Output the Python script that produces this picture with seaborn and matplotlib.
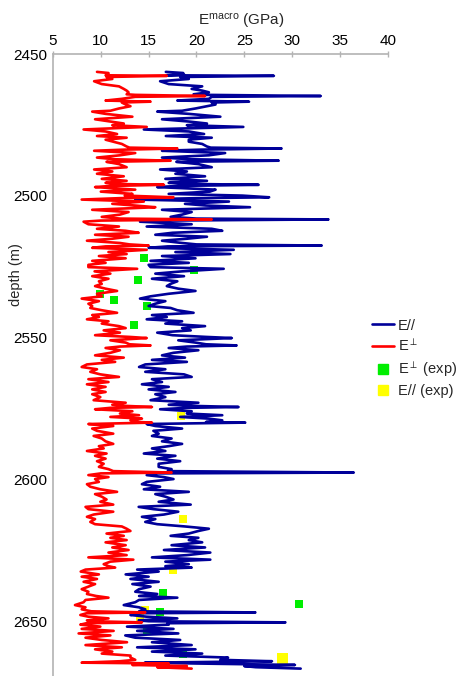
import matplotlib
matplotlib.use("Agg")
import matplotlib.pyplot as plt
from matplotlib.lines import Line2D
import pandas as pd
import seaborn as sns

# depth (m) of each log sample
depth = [
    2456.3, 2456.7, 2457.2, 2457.5, 2457.7, 2458.1, 2458.8, 2459.6, 2460.6, 2461.4,
    2462.3, 2462.9, 2463.5, 2464.2, 2464.4, 2464.8, 2465.1, 2465.8, 2466.4, 2466.8,
    2467.1, 2467.8, 2468.4, 2469.2, 2470.0, 2470.3, 2471.1, 2472.1, 2473.0, 2473.8,
    2474.5, 2475.1, 2475.7, 2476.2, 2476.6, 2477.3, 2478.2, 2478.9, 2479.5, 2480.2,
    2480.9, 2481.7, 2482.6, 2483.0, 2483.3, 2483.7, 2484.1, 2484.9, 2485.7, 2486.5,
    2487.1, 2487.6, 2488.0, 2488.8,
    2489.9, 2490.7, 2491.4, 2492.2, 2493.1, 2494.0, 2494.7, 2495.4, 2495.8, 2496.1,
    2496.5, 2496.9, 2497.8, 2498.5, 2499.3, 2499.9, 2500.5, 2500.8, 2501.3, 2502.0,
    2502.8, 2503.4, 2504.0, 2504.9, 2505.7, 2506.6, 2507.4, 2508.0, 2508.3, 2508.7,
    2509.1, 2510.0, 2510.8, 2511.6, 2512.3, 2513.0, 2513.7, 2514.4, 2515.1, 2515.8,
    2516.6, 2517.1, 2517.5, 2517.8, 2518.3, 2519.0, 2519.8, 2520.5, 2521.2, 2522.0,
    2522.9, 2523.6, 2524.3,
    2525.1, 2525.7, 2526.6, 2527.4, 2528.3, 2529.2, 2530.1, 2531.0, 2531.8, 2532.7,
    2533.5, 2534.5, 2535.4, 2536.2, 2537.1, 2538.0, 2538.8, 2539.5, 2540.3, 2541.2,
    2542.0, 2542.7, 2543.5, 2544.2, 2545.0, 2545.9, 2546.6, 2547.4, 2548.2, 2549.1,
    2549.7, 2550.1, 2550.9, 2551.7, 2552.3, 2552.7, 2553.1, 2553.6, 2554.4, 2555.3,
    2556.2, 2557.0, 2557.8, 2558.5, 2559.4,
    2560.3, 2561.1, 2562.0, 2562.9, 2563.8, 2564.6, 2565.6, 2566.4, 2567.3, 2568.2,
    2569.1, 2569.9, 2570.9, 2572.0, 2572.9, 2573.6, 2574.0, 2574.4, 2574.7, 2575.2,
    2575.9, 2576.7, 2577.3, 2577.9, 2578.5, 2579.1, 2579.7, 2579.9, 2580.4, 2581.1,
    2582.0, 2582.8, 2583.8, 2584.6, 2585.5, 2586.5, 2587.4, 2588.2, 2589.0, 2589.9,
    2590.8, 2591.6, 2592.6, 2593.5, 2594.4,
    2595.5, 2596.3, 2597.0, 2597.5, 2597.8, 2598.4, 2599.1, 2599.8, 2600.8, 2601.6,
    2602.5, 2603.4, 2604.3, 2605.1, 2606.0, 2607.0, 2607.8, 2608.8, 2609.6, 2610.4,
    2611.3, 2612.3, 2613.1, 2613.9, 2614.9, 2615.7, 2616.5, 2617.3, 2618.1, 2619.0,
    2619.8, 2620.5, 2621.3, 2622.1, 2623.1, 2623.9, 2624.8, 2625.7, 2626.6, 2627.4,
    2628.2, 2628.9, 2629.8,
    2630.5, 2631.0, 2631.7, 2632.4, 2633.4, 2634.2, 2635.0, 2636.0, 2636.8, 2637.7,
    2638.6, 2639.5, 2640.3, 2641.0, 2641.6, 2642.4, 2643.2, 2644.2, 2645.0, 2645.7,
    2646.4, 2646.8, 2647.1, 2647.7, 2648.3, 2648.9, 2649.6, 2649.9, 2650.3, 2650.6,
    2651.1, 2651.8, 2652.6, 2653.3, 2654.2, 2654.9, 2655.7, 2656.5, 2657.3, 2658.3,
    2659.1, 2659.8, 2660.6, 2661.3, 2662.0, 2662.7, 2663.5, 2664.0, 2664.5, 2664.8,
    2665.3, 2665.7, 2666.1, 2666.6,
]

# E// (GPa)
e_par = [
    16.8, 18.6, 18.7, 16.9, 28.1, 18.3, 19.2, 16.2, 17.1, 20.6,
    19.5, 20.6, 21.3, 19.7, 21.0, 33.0, 21.6, 21.3, 18.0, 25.5,
    21.6, 22.0, 21.1, 19.9, 18.5, 15.9, 19.2, 22.5, 16.4, 19.2,
    21.1, 19.0, 24.9, 19.0, 14.5, 19.2, 20.8, 16.8, 21.6, 19.2,
    19.2, 20.6, 21.1, 21.5, 28.9, 20.5, 16.4, 23.0, 21.3, 16.4,
    19.5, 28.6, 17.9, 20.2,
    21.6, 16.2, 19.0, 17.8, 20.9, 16.75, 21.1, 17.1, 19.5, 26.5,
    18.0, 15.9, 22.0, 21.4, 17.1, 24.8, 27.6, 20.0, 13.6, 23.4,
    18.8, 21.0, 25.6, 16.4, 19.5, 18.5, 17.3, 20.0, 33.8, 17.0,
    14.1, 19.5, 14.8, 21.6, 22.7, 17.5, 15.7, 21.1, 19.0, 16.4,
    18.5, 20.0, 33.1, 17.0, 15.0, 23.9, 17.8, 23.55, 16.4, 19.9,
    15.2, 19.2, 15.0,
    15.2, 22.85, 18.5, 15.7, 18.7, 15.35, 18.0, 17.3, 16.9, 18.1,
    19.9, 17.1, 15.2, 14.1, 16.75, 15.7, 15.0, 17.3, 18.0, 19.7,
    15.35, 16.9, 14.8, 18.5, 16.75, 20.9, 18.5, 19.4, 15.9, 17.5,
    21.0, 23.7, 18.1, 19.9, 21.0, 24.2, 19.0, 17.1, 20.2, 17.6,
    16.4, 18.8, 15.35, 19.0, 14.65,
    14.0, 16.75, 14.65, 18.7, 19.5, 15.35, 16.4, 14.3, 17.1, 15.0,
    17.8, 15.7, 16.75, 15.2, 20.2, 17.1, 19.5, 24.4, 19.0, 16.2,
    19.5, 19.0, 22.7, 18.3, 21.3, 22.7, 21.0, 25.1, 14.8, 15.7,
    18.5, 15.5, 16.05, 15.35, 17.4, 16.4, 18.5, 17.1, 15.35, 16.75,
    14.5, 17.8, 15.9, 18.3, 16.05,
    16.05, 17.4, 17.0, 36.45, 16.0, 14.8, 16.6, 17.6, 14.8, 14.3,
    16.2, 14.5, 19.2, 15.7, 16.75, 17.6, 16.05, 19.4, 13.96, 15.5,
    18.1, 16.6, 14.3, 15.7, 14.65, 15.9, 18.8, 21.3, 20.2, 19.2,
    17.3, 20.2, 19.2, 20.6, 17.4, 20.9, 16.6, 21.45, 19.0, 15.35,
    21.45, 16.75, 19.2,
    16.75, 19.5, 13.8, 16.05, 12.6, 15.0, 13.1, 16.05, 13.3, 15.2,
    14.0, 13.6, 15.9, 14.0, 18.0, 14.0, 13.6, 12.4, 14.0, 14.65,
    14.0, 26.16, 14.0, 13.1, 14.8, 18.0, 13.96, 15.0, 29.3, 17.0,
    17.1, 12.74, 17.6, 13.8, 18.1, 12.56, 13.6, 18.3, 15.35, 19.5,
    13.8, 19.9, 15.35, 20.6, 16.75, 23.3, 22.5, 27.9, 14.6, 20.0,
    30.3, 25.0, 26.2, 30.9,
]

# E-perp (GPa)
e_perp = [
    9.6, 10.8, 10.8, 10.5, 16.9, 10.6, 11.2, 9.3, 10.1, 11.9,
    12.4, 12.7, 12.9, 12.7, 13.6, 20.9, 13.6, 12.2, 10.5, 15.2,
    12.2, 12.6, 13.1, 11.9, 11.0, 9.1, 10.5, 13.3, 9.4, 11.0,
    12.4, 11.2, 14.8, 11.0, 8.2, 10.5, 11.7, 9.6, 12.7, 10.5,
    11.3, 12.2, 12.7, 13.0, 18.0, 12.5, 9.3, 13.6, 12.0, 9.6,
    11.5, 17.3, 10.6, 11.9,
    12.7, 9.3, 11.2, 9.6, 12.4, 10.1, 12.7, 10.5, 11.5, 16.6,
    11.0, 9.4, 13.6, 10.0, 13.3, 12.5, 17.6, 12.0, 8.0, 14.5,
    11.2, 13.6, 15.7, 9.1, 12.9, 12.0, 10.1, 12.0, 21.6, 10.0,
    8.2, 8.7, 11.9, 9.6, 12.6, 13.96, 9.4, 12.9, 11.2, 8.55,
    12.0, 13.0, 15.0, 10.5, 9.1, 14.8, 10.8, 12.7, 9.8, 12.6,
    9.1, 10.5, 8.7,
    8.7, 13.8, 9.35, 11.0, 9.1, 10.8, 9.8, 10.1, 9.4, 10.5,
    11.7, 9.6, 10.1, 8.0, 9.8, 8.7, 9.1, 8.9, 10.1, 11.7,
    9.1, 9.8, 8.55, 10.8, 10.1, 11.9, 12.6, 10.3, 12.0, 9.4,
    13.0, 14.8, 11.0, 12.6, 13.0, 15.2, 12.0, 10.5, 12.0, 11.0,
    9.4, 12.4, 10.1, 11.5, 8.55,
    8.0, 9.6, 8.9, 9.95, 11.9, 8.7, 10.8, 8.55, 10.5, 9.1,
    10.5, 9.1, 9.95, 9.25, 12.6, 11.2, 12.5, 15.35, 11.0, 9.4,
    13.3, 12.0, 14.0, 11.0, 14.3, 13.1, 14.0, 15.35, 8.7, 11.3,
    9.1, 9.6, 11.3, 9.25, 10.1, 10.5, 11.3, 9.8, 10.3, 8.55,
    10.6, 9.4, 10.5, 9.6, 10.3,
    9.8, 10.8, 11.3, 17.4, 10.0, 8.7, 10.8, 9.4, 9.8, 8.55,
    8.9, 9.95, 11.7, 9.4, 10.1, 10.6, 9.95, 11.3, 8.4, 8.7,
    11.3, 9.25, 8.55, 9.4, 8.9, 9.4, 12.2, 12.7, 13.1, 10.6,
    12.4, 11.0, 12.7, 10.5, 12.6, 11.2, 12.9, 10.8, 12.7, 8.7,
    13.4, 11.0, 10.3,
    10.8, 11.5, 8.4, 7.9, 9.8, 8.0, 9.6, 8.2, 9.4, 8.7,
    8.0, 8.7, 8.55, 9.5, 10.8, 8.4, 8.2, 7.3, 8.4, 8.0,
    9.0, 14.65, 8.5, 7.86, 8.7, 10.8, 8.55, 9.0, 14.3, 8.5,
    7.86, 9.95, 8.0, 11.34, 7.68, 11.0, 8.4, 10.1, 12.74, 8.4,
    12.2, 9.4, 11.2, 10.1, 13.1, 13.1, 13.6, 12.0, 8.0, 17.1,
    13.3, 19.0, 15.9, 19.5,
]

# laboratory measurements
perp_exp_depth = [2521.8, 2526.0, 2529.8, 2534.5, 2536.8, 2538.9, 2545.6,
                  2640.0, 2643.9, 2646.5, 2653.1, 2661.3]
perp_exp_e = [14.5, 19.7, 13.9, 9.9, 11.4, 14.8, 13.5,
              16.5, 30.7, 16.15, 14.8, 18.6]
par_exp_depth = [2577.6, 2614.0, 2631.9, 2646.0, 2648.9, 2663.0]
par_exp_e = [18.4, 18.55, 17.5, 14.6, 14.1, 28.95]
par_exp_size = [33, 33, 33, 33, 33, 63]

BLUE = "#000099"
RED = "#ff0000"
GREEN = "#00ee00"
YELLOW = "#ffff00"
GREY = "#b3b3b3"

sns.set_theme(style="white")
plt.rcParams["font.family"] = ["Liberation Sans", "DejaVu Sans"]
plt.rcParams["mathtext.fontset"] = "custom"
plt.rcParams["mathtext.rm"] = "Liberation Sans"
plt.rcParams["mathtext.it"] = "Liberation Sans"

log = pd.DataFrame({"depth": depth, "par": e_par, "perp": e_perp})

fig = plt.figure(figsize=(4.65, 6.76), dpi=100)
ax = fig.add_axes([53 / 465, 0.0, 334.7 / 465, 622 / 676])

# squares first so the logs sit on top of them
sns.scatterplot(x=perp_exp_e, y=perp_exp_depth, marker="s", s=33, color=GREEN,
                linewidth=0, ax=ax, zorder=1)
sns.scatterplot(x=par_exp_e, y=par_exp_depth, marker="s", size=par_exp_size,
                sizes=(33, 63), color=YELLOW, linewidth=0, ax=ax, zorder=1, legend=False)
sns.lineplot(data=log, x="par", y="depth", sort=False, estimator=None,
             color=BLUE, linewidth=1.9, ax=ax, zorder=2)
sns.lineplot(data=log, x="perp", y="depth", sort=False, estimator=None,
             color=RED, linewidth=1.9, ax=ax, zorder=3)

ax.set_xlim(5, 40)
ax.set_ylim(2669.2, 2450)
ax.set_xticks(range(5, 41, 5))
ax.set_yticks(range(2450, 2651, 50))
ax.xaxis.tick_top()
ax.xaxis.set_label_position("top")
ax.set_xlabel(r"E$^{\mathrm{macro}}$ (GPa)", fontsize=11)
ax.xaxis.set_label_coords(0.563, 1.047)
ax.set_ylabel("depth (m)", fontsize=10.5)
ax.yaxis.set_label_coords(-0.09, 0.645)
ax.tick_params(axis="both", labelsize=11, colors="black", length=4, width=1,
               color=GREY, direction="inout", pad=2)
for side in ["right", "bottom"]:
    ax.spines[side].set_visible(False)
for side in ["left", "top"]:
    ax.spines[side].set_color(GREY)
    ax.spines[side].set_linewidth(1.2)
if ax.get_legend() is not None:
    ax.get_legend().remove()

handles = [
    Line2D([], [], color=BLUE, linewidth=1.9),
    Line2D([], [], color=RED, linewidth=1.9),
    Line2D([], [], color=GREEN, marker="s", linestyle="none", markersize=7),
    Line2D([], [], color=YELLOW, marker="s", linestyle="none", markersize=7),
]
labels = ["E//", r"E$^{\perp}$", r"E$^{\perp}$ (exp)", "E// (exp)"]
fig.legend(handles, labels, loc="center left", bbox_to_anchor=(363 / 465, 0.47),
           frameon=False, fontsize=10.5, handlelength=1.5, handletextpad=0.3,
           labelspacing=0.35, borderaxespad=0.2)

fig.savefig("out.png", dpi=100)
